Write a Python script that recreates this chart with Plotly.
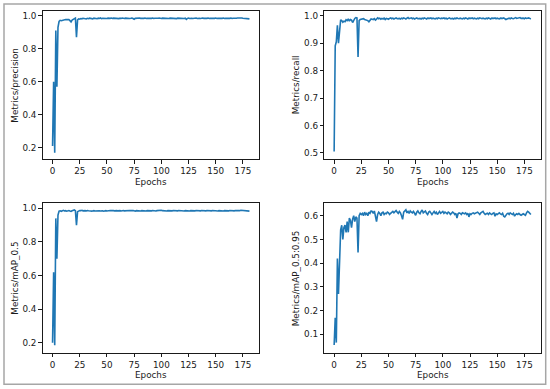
import plotly.graph_objects as go

epochs = list(range(182))

precision = [
    0.21, 0.60, 0.17, 0.91, 0.57, 0.93, 0.965, 0.972, 0.970, 0.973,
    0.975, 0.974, 0.977, 0.976, 0.978, 0.977, 0.970, 0.963, 0.974, 0.980,
    0.983, 0.986, 0.870, 0.975, 0.981, 0.979, 0.983, 0.981, 0.984, 0.982,
    0.983, 0.980, 0.984, 0.982, 0.985, 0.983, 0.984, 0.981, 0.985, 0.983,
    0.984, 0.982, 0.985, 0.983, 0.986, 0.982, 0.984, 0.983, 0.985, 0.984,
    0.983, 0.985, 0.982, 0.984, 0.986, 0.983, 0.985, 0.984, 0.983, 0.986,
    0.984, 0.982, 0.985, 0.983, 0.986, 0.984, 0.983, 0.985, 0.984, 0.982,
    0.985, 0.983, 0.984, 0.986, 0.983, 0.978, 0.984, 0.985, 0.983, 0.984,
    0.986, 0.984, 0.983, 0.985, 0.984, 0.986, 0.983, 0.985, 0.984, 0.983,
    0.985, 0.984, 0.986, 0.983, 0.985, 0.984, 0.983, 0.985, 0.986, 0.984,
    0.983, 0.985, 0.984, 0.986, 0.983, 0.985, 0.984, 0.983, 0.985, 0.984,
    0.986, 0.983, 0.985, 0.984, 0.982, 0.985, 0.984, 0.986, 0.983, 0.985,
    0.984, 0.983, 0.985, 0.978, 0.984, 0.986, 0.983, 0.985, 0.984, 0.983,
    0.985, 0.984, 0.986, 0.983, 0.985, 0.984, 0.983, 0.985, 0.986, 0.984,
    0.983, 0.985, 0.984, 0.986, 0.983, 0.985, 0.984, 0.982, 0.985, 0.984,
    0.986, 0.983, 0.985, 0.984, 0.983, 0.985, 0.984, 0.986, 0.983, 0.985,
    0.984, 0.983, 0.985, 0.984, 0.986, 0.983, 0.985, 0.984, 0.983, 0.985,
    0.986, 0.987, 0.985, 0.988, 0.986, 0.985, 0.984, 0.986, 0.983, 0.984,
    0.982, 0.981,
]

recall = [
    0.505, 0.890, 0.905, 0.965, 0.900, 0.955, 0.985, 0.982, 0.976, 0.980,
    0.978, 0.985, 0.982, 0.988, 0.980, 0.986, 0.984, 0.975, 0.985, 0.990,
    0.993, 0.992, 0.850, 0.982, 0.986, 0.988, 0.987, 0.989, 0.986, 0.985,
    0.984, 0.982, 0.978, 0.986, 0.988, 0.987, 0.986, 0.989, 0.984, 0.987,
    0.992, 0.989, 0.991, 0.987, 0.990, 0.988, 0.991, 0.986, 0.990, 0.989,
    0.987, 0.990, 0.992, 0.989, 0.991, 0.988, 0.990, 0.992, 0.989, 0.991,
    0.990, 0.988, 0.991, 0.989, 0.992, 0.990, 0.988, 0.991, 0.993, 0.989,
    0.990, 0.992, 0.989, 0.991, 0.988, 0.990, 0.992, 0.989, 0.991, 0.990,
    0.988, 0.991, 0.989, 0.992, 0.990, 0.988, 0.991, 0.989, 0.990, 0.992,
    0.989, 0.991, 0.990, 0.988, 0.991, 0.989, 0.992, 0.990, 0.989, 0.991,
    0.990, 0.992, 0.989, 0.991, 0.988, 0.990, 0.992, 0.989, 0.991, 0.990,
    0.988, 0.991, 0.989, 0.992, 0.990, 0.989, 0.991, 0.990, 0.988, 0.991,
    0.989, 0.992, 0.990, 0.988, 0.991, 0.989, 0.990, 0.992, 0.989, 0.991,
    0.990, 0.988, 0.991, 0.989, 0.992, 0.990, 0.989, 0.991, 0.990, 0.988,
    0.991, 0.989, 0.992, 0.990, 0.988, 0.991, 0.989, 0.990, 0.992, 0.989,
    0.991, 0.990, 0.988, 0.991, 0.989, 0.990, 0.992, 0.989, 0.986, 0.988,
    0.990, 0.991, 0.989, 0.992, 0.990, 0.989, 0.991, 0.993, 0.990, 0.992,
    0.991, 0.993, 0.990, 0.992, 0.991, 0.989, 0.992, 0.990, 0.991, 0.992,
    0.990, 0.988,
]

map50 = [
    0.200, 0.620, 0.185, 0.940, 0.700, 0.960, 0.983, 0.985, 0.982, 0.986,
    0.988, 0.984, 0.986, 0.983, 0.985, 0.987, 0.984, 0.982, 0.985, 0.988,
    0.990, 0.986, 0.900, 0.980, 0.985, 0.987, 0.986, 0.988, 0.985, 0.987,
    0.986, 0.984, 0.987, 0.985, 0.986, 0.984, 0.983, 0.985, 0.986, 0.984,
    0.985, 0.983, 0.986, 0.985, 0.984, 0.986, 0.985, 0.983, 0.985, 0.986,
    0.984, 0.986, 0.985, 0.987, 0.986, 0.988, 0.986, 0.985, 0.987, 0.986,
    0.985, 0.987, 0.986, 0.984, 0.986, 0.987, 0.985, 0.986, 0.984, 0.986,
    0.985, 0.987, 0.986, 0.984, 0.986, 0.985, 0.983, 0.986, 0.985, 0.987,
    0.986, 0.984, 0.986, 0.985, 0.987, 0.986, 0.984, 0.986, 0.985, 0.987,
    0.986, 0.985, 0.987, 0.985, 0.986, 0.984, 0.986, 0.987, 0.985, 0.986,
    0.988, 0.986, 0.985, 0.987, 0.986, 0.984, 0.986, 0.985, 0.987, 0.986,
    0.985, 0.987, 0.986, 0.984, 0.986, 0.985, 0.987, 0.986, 0.985, 0.987,
    0.986, 0.984, 0.986, 0.985, 0.987, 0.986, 0.984, 0.986, 0.985, 0.987,
    0.986, 0.985, 0.987, 0.986, 0.988, 0.986, 0.985, 0.987, 0.986, 0.984,
    0.986, 0.985, 0.987, 0.986, 0.984, 0.986, 0.985, 0.987, 0.986, 0.985,
    0.987, 0.986, 0.984, 0.986, 0.985, 0.987, 0.986, 0.984, 0.986, 0.985,
    0.987, 0.986, 0.985, 0.987, 0.986, 0.984, 0.986, 0.985, 0.987, 0.986,
    0.985, 0.987, 0.986, 0.988, 0.987, 0.986, 0.985, 0.987, 0.986, 0.985,
    0.984, 0.983,
]

map50_95 = [
    0.055, 0.170, 0.065, 0.420, 0.270, 0.450, 0.540, 0.560, 0.500, 0.550,
    0.560, 0.530, 0.575, 0.530, 0.590, 0.580, 0.550, 0.585, 0.600, 0.575,
    0.595, 0.590, 0.445, 0.600, 0.610, 0.605, 0.610, 0.600, 0.615, 0.605,
    0.610, 0.600, 0.615, 0.610, 0.620, 0.618, 0.610, 0.620, 0.600, 0.575,
    0.605, 0.615, 0.610, 0.600, 0.612, 0.615, 0.605, 0.610, 0.608, 0.615,
    0.612, 0.605, 0.610, 0.615, 0.618, 0.612, 0.620, 0.622, 0.615, 0.610,
    0.618, 0.612, 0.600, 0.585, 0.615, 0.620, 0.625, 0.612, 0.618, 0.610,
    0.620, 0.615, 0.612, 0.618, 0.610, 0.602, 0.615, 0.620, 0.612, 0.608,
    0.618, 0.624, 0.612, 0.615, 0.620, 0.610, 0.605, 0.615, 0.618, 0.612,
    0.605, 0.612, 0.618, 0.610, 0.615, 0.605, 0.612, 0.618, 0.610, 0.614,
    0.618, 0.610, 0.615, 0.612, 0.608, 0.615, 0.612, 0.605, 0.610, 0.615,
    0.612, 0.605, 0.610, 0.590, 0.608, 0.612, 0.610, 0.605, 0.612, 0.610,
    0.608, 0.612, 0.605, 0.610, 0.595, 0.608, 0.605, 0.610, 0.612, 0.608,
    0.610, 0.612, 0.615, 0.610, 0.605, 0.612, 0.615, 0.618, 0.610, 0.605,
    0.608, 0.610, 0.605, 0.612, 0.608, 0.605, 0.610, 0.612, 0.598, 0.608,
    0.605, 0.610, 0.612, 0.608, 0.605, 0.610, 0.598, 0.595, 0.605, 0.608,
    0.610, 0.605, 0.612, 0.608, 0.605, 0.610, 0.598, 0.605, 0.608, 0.605,
    0.610, 0.605, 0.602, 0.605, 0.608, 0.605, 0.602, 0.612, 0.618, 0.615,
    0.608, 0.605,
]

y_titles = ["Metrics/precision", "Metrics/recall", "Metrics/mAP_0.5", "Metrics/mAP_0.5:0.95"]
x_title = "Epochs"
x_ticks = [0, 25, 50, 75, 100, 125, 150, 175]
y_ticks = [
    [0.2, 0.4, 0.6, 0.8, 1.0],
    [0.5, 0.6, 0.7, 0.8, 0.9, 1.0],
    [0.2, 0.4, 0.6, 0.8, 1.0],
    [0.1, 0.2, 0.3, 0.4, 0.5, 0.6],
]
series = [precision, recall, map50, map50_95]

W, H = 550, 389
# pixel boxes of the four axes: (left, right, top, bottom)
boxes = [
    (42.7, 259.3, 11.0, 159.0),
    (324.3, 540.7, 11.0, 159.0),
    (42.7, 259.3, 203.3, 352.7),
    (324.3, 540.7, 203.3, 352.7),
]
y_ranges = [
    [0.1315, 1.0285],
    [0.478, 1.017],
    [0.1405, 1.0298],
    [0.0224, 0.6523],
]
x_range = [-9.05, 190.05]

LINE = "#1f77b4"
AX = "#1a1a1a"
FONT = "DejaVu Sans"
FS = 8.8

fig = go.Figure()
layout = dict(
    width=W, height=H,
    margin=dict(l=0, r=0, t=0, b=0),
    paper_bgcolor="white", plot_bgcolor="white",
    showlegend=False,
    font=dict(family=FONT, size=FS, color=AX),
)

annotations = []
for i, (ys, box) in enumerate(zip(series, boxes)):
    n = i + 1
    xa = "x" if n == 1 else f"x{n}"
    ya = "y" if n == 1 else f"y{n}"
    fig.add_trace(go.Scatter(x=epochs, y=ys, mode="lines",
                             line=dict(color=LINE, width=1.6),
                             xaxis=xa, yaxis=ya, hoverinfo="skip"))
    l, r, t, b = box
    common = dict(showline=True, linecolor=AX, linewidth=1, mirror=True,
                  ticks="outside", ticklen=3.5, tickwidth=1, tickcolor=AX,
                  showgrid=False, zeroline=False, automargin=False,
                  tickfont=dict(family=FONT, size=FS, color=AX))
    layout["xaxis" if n == 1 else f"xaxis{n}"] = dict(
        domain=[l / W, r / W], range=x_range, tickvals=x_ticks,
        anchor=ya, **common)
    layout["yaxis" if n == 1 else f"yaxis{n}"] = dict(
        domain=[1 - b / H, 1 - t / H], range=y_ranges[i], tickvals=y_ticks[i],
        tickformat=".1f", anchor=xa, **common)
    annotations.append(dict(text=x_title, xref="paper", yref="paper",
                            x=(l + r) / 2 / W, y=1 - (b + 22.5) / H,
                            xanchor="center", yanchor="middle", showarrow=False,
                            font=dict(family=FONT, size=FS, color=AX)))
    annotations.append(dict(text=y_titles[i], xref="paper", yref="paper",
                            x=(l - 28) / W, y=1 - (t + b) / 2 / H, textangle=-90,
                            xanchor="center", yanchor="middle", showarrow=False,
                            font=dict(family=FONT, size=FS, color=AX)))

layout["annotations"] = annotations
layout["shapes"] = [dict(type="rect", xref="paper", yref="paper",
                         x0=4 / W, x1=545.7 / W, y0=1 - 384.3 / H, y1=1 - 4 / H,
                         line=dict(color="#a6a6a6", width=1.5))]
fig.update_layout(**layout)
fig.write_html("out.html",
               config={"displayModeBar": False, "staticPlot": True},
               post_script="document.body.style.margin='0';"
                           "document.body.style.overflow='hidden';")
